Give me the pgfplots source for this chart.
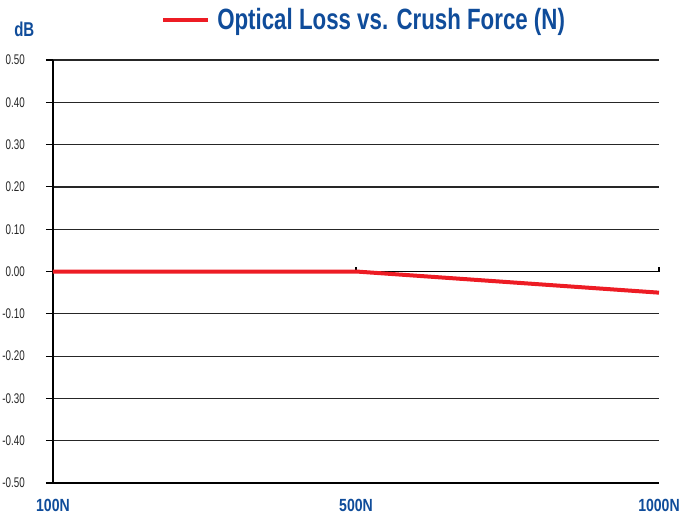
\documentclass[border=0pt]{standalone}
\usepackage{fontspec}
\usepackage{pgfplots}
\pgfplotsset{compat=1.18}
\setmainfont{Liberation Sans}
\newfontfamily\tickfont{Liberation Sans}[FakeStretch=0.7]
\newfontfamily\boldc{Liberation Sans}[FakeStretch=0.76]
\newfontfamily\dbfont{Liberation Sans}[FakeStretch=0.75]
\newfontfamily\xfont{Liberation Sans}[FakeStretch=0.8]
\definecolor{ttblue}{HTML}{0F4C9A}
\definecolor{ttred}{HTML}{ED1C24}
\definecolor{gridc}{HTML}{262626}
\begin{document}
\begin{tikzpicture}
\useasboundingbox (-39.75pt,-24pt) rectangle (471.75pt,362.25pt);
\begin{axis}[
  at={(0,0)}, anchor=south west,
  scale only axis,
  width=454.5pt, height=317.25pt,
  xmin=0, xmax=2, ymin=-0.5, ymax=0.5,
  axis lines=left,
  axis line style={-, black, line width=0.8pt},
  xtick={0,1,2},
  xticklabels={100N,500N,1000N},
  xtick style={draw=none},
  xticklabel style={anchor=base, yshift=-15.75pt, inner sep=0pt,
    font=\xfont\bfseries\fontsize{13.2}{13.2}\selectfont, text=ttblue},
  ytick={-0.5,-0.4,-0.3,-0.2,-0.1,0,0.1,0.2,0.3,0.4,0.5},
  yticklabels={-0.50,-0.40,-0.30,-0.20,-0.10,0.00,0.10,0.20,0.30,0.40,0.50},
  yticklabel style={anchor=east, xshift=-15.75pt, inner sep=0pt,
    font=\tickfont\fontsize{10.5}{10.5}\selectfont, text=black!85},
  tick align=outside,
  major tick length=5.25pt,
  ytick style={black, line width=0.8pt},
  ymajorgrids,
  grid style={gridc, line width=0.9pt},
  clip=false,
]
\draw[black, line width=0.8pt] (axis cs:0,0) -- (axis cs:2,0);
\draw[black, line width=0.8pt] (axis cs:1,0) -- ++(0pt,3.75pt);
\draw[black, line width=0.8pt] (axis cs:2,0) -- ++(0pt,3.75pt);
\addplot[ttred, line width=3pt] coordinates {(0,0) (1,0) (2,-0.05)};
\end{axis}
\draw[ttred, line width=3pt] (82.5pt,347.25pt) -- (116.25pt,347.25pt);
\node[anchor=base west, inner sep=0pt, text=ttblue,
  font=\boldc\bfseries\fontsize{22}{22}\selectfont] at (123pt,339.75pt)
  {Optical Loss vs. Crush Force (N)};
\node[anchor=base west, inner sep=0pt, text=ttblue,
  font=\dbfont\bfseries\fontsize{15}{15}\selectfont] at (-29.25pt,334.5pt) {dB};
\end{tikzpicture}
\end{document}
